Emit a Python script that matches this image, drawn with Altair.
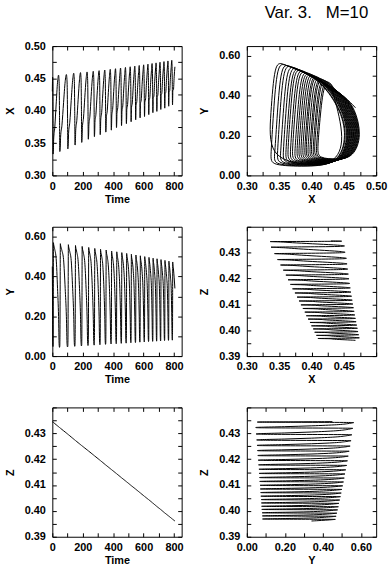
import altair as alt
import pandas as pd

# ---- values -----------------------------------------------------------
# start time of every oscillation (moment where Y starts its fast rise)
cycle_start = [5, 50, 103, 150, 194, 237, 277, 315, 352, 388, 422, 455,
               487, 518, 548, 577, 606, 634, 661, 687, 713, 739, 765, 790]
last_cycle_end = 814
t_end = 806
# per-cycle extremes
x_trough = [0.333, 0.337, 0.343, 0.347, 0.352, 0.356, 0.360, 0.363, 0.367, 0.370, 0.374, 0.377,
            0.380, 0.383, 0.386, 0.389, 0.391, 0.394, 0.397, 0.399, 0.402, 0.404, 0.407, 0.409]
x_peak = [0.452, 0.453, 0.455, 0.456, 0.457, 0.458, 0.459, 0.460, 0.461, 0.462, 0.463, 0.464,
          0.465, 0.466, 0.467, 0.468, 0.469, 0.470, 0.471, 0.472, 0.473, 0.474, 0.475, 0.476]
y_trough = [0.050, 0.052, 0.055, 0.057, 0.059, 0.061, 0.063, 0.065, 0.067, 0.068, 0.070, 0.071,
            0.073, 0.074, 0.076, 0.077, 0.079, 0.080, 0.081, 0.082, 0.084, 0.085, 0.086, 0.087]
y_peak = [0.570, 0.565, 0.560, 0.556, 0.551, 0.546, 0.541, 0.537, 0.533, 0.528, 0.524, 0.520,
          0.516, 0.512, 0.508, 0.504, 0.500, 0.496, 0.492, 0.489, 0.485, 0.481, 0.477, 0.473]
z_start = [0.4343, 0.4321, 0.4296, 0.4273, 0.4252, 0.4232, 0.4213, 0.4195, 0.4177, 0.4160, 0.4144, 0.4128,
           0.4113, 0.4098, 0.4084, 0.4070, 0.4056, 0.4043, 0.4030, 0.4017, 0.4005, 0.3992, 0.3980, 0.3968]
z_last = 0.3957
# initial transient at t = 0
t_init = [0.0, 2.0, 3.5, 4.3]
x_init = [0.430, 0.452, 0.440, 0.392]
y_init = [0.450, 0.200, 0.060, 0.048]
z_init = [0.4345, 0.4344, 0.4344, 0.4343]
# turning points inside one cycle (fraction of the period)
phase = [0.00, 0.025, 0.05, 0.08, 0.25, 0.45, 0.65, 0.80, 0.89, 0.94, 0.98]

rows = [dict(t=a, X=b, Y=c, Z=d) for a, b, c, d in zip(t_init, x_init, y_init, z_init)]
n = len(cycle_start)
for k in range(n):
    t0 = cycle_start[k]
    t1 = cycle_start[k + 1] if k + 1 < n else last_cycle_end
    z0 = z_start[k]
    z1 = z_start[k + 1] if k + 1 < n else z_last
    xl, xh, yl, yh = x_trough[k], x_peak[k], y_trough[k], y_peak[k]
    xs = [xl, xl + 0.004, xl + 0.010, xl + 0.022, xl + 0.35 * (xh - xl), xl + 0.65 * (xh - xl),
          xh - 0.008, xh + 0.003, xh - 0.010, 0.5 * (xl + xh), xl + 0.004]
    ys = [yl + 0.04, 0.5 * (yl + yh), yh, yh - 0.008, yh - 0.035, yh - 0.08, 0.34, 0.20,
          yl + 0.005, yl - 0.006, yl]
    for f, xv, yv in zip(phase, xs, ys):
        t = t0 + f * (t1 - t0)
        if t <= t_end:
            rows.append(dict(t=t, X=xv, Y=yv, Z=z0 + f * (z1 - z0)))
df = pd.DataFrame(rows)

FONT = "Liberation Sans"
W = 131
H = 131

time_ticks = list(range(0, 801, 100))
x_ticks = [0.30, 0.325, 0.35, 0.375, 0.40, 0.425, 0.45, 0.475, 0.50]
y_ticks = [0.0, 0.1, 0.2, 0.3, 0.4, 0.5, 0.6]
z_ticks = [0.39, 0.395, 0.40, 0.405, 0.41, 0.415, 0.42, 0.425, 0.43, 0.435, 0.44]

lab_time = "datum.value % 200 === 0 ? datum.label : ''"
lab_x = "abs(round(datum.value * 1000) % 50) == 0 ? datum.label : ''"
lab_x45 = "abs(round(datum.value * 1000) % 50) == 0 && datum.value < 0.48 ? datum.label : ''"
lab_y = "abs(round(datum.value * 100) % 20) == 0 ? datum.label : ''"
lab_z = "abs(round(datum.value * 1000) % 10) == 0 && datum.value < 0.435 ? datum.label : ''"


def panel(xf, yf, xdom, ydom, xticks, yticks, xexpr, yexpr, xfmt, yfmt, xtitle, ytitle,
          interp, title=None):
    base = alt.Chart(df).properties(width=W, height=H)
    if title is not None:
        base = base.properties(title=title)
    xs = alt.Scale(domain=xdom, nice=False, zero=False)
    ys = alt.Scale(domain=ydom, nice=False, zero=False)
    main = base.mark_line(color="black", strokeWidth=1.0, interpolate=interp).encode(
        x=alt.X(f"{xf}:Q", scale=xs,
                axis=alt.Axis(orient="bottom", values=xticks, labelExpr=xexpr, format=xfmt,
                              title=xtitle, offset=-4, tickSize=4, domain=False,
                              labelPadding=5, titlePadding=2, labelFlush=False,
                              labelOverlap=False)),
        y=alt.Y(f"{yf}:Q", scale=ys,
                axis=alt.Axis(orient="left", values=yticks, labelExpr=yexpr, format=yfmt,
                              title=ytitle, offset=-4, tickSize=4, domain=False,
                              labelPadding=7, titlePadding=9, labelFlush=False,
                              labelOverlap=False)),
        order="t:Q",
    )
    mirror = alt.Chart(df).mark_line(strokeOpacity=0, interpolate=interp).encode(
        x=alt.X(f"{xf}:Q", scale=xs,
                axis=alt.Axis(orient="top", values=xticks, labels=False, title=None,
                              offset=-4, tickSize=4, domain=False)),
        y=alt.Y(f"{yf}:Q", scale=ys,
                axis=alt.Axis(orient="right", values=yticks, labels=False, title=None,
                              offset=-4, tickSize=4, domain=False)),
        order="t:Q",
    ).properties(width=W, height=H)
    return alt.layer(main, mirror).resolve_axis(x="independent", y="independent")


main_title = alt.TitleParams(text="Var. 3.\u00a0\u00a0\u00a0M=10", anchor="middle", frame="group",
                             font=FONT, fontSize=17, fontWeight="normal", color="black",
                             offset=24, dx=5)

p11 = panel("t", "X", [0, 850], [0.30, 0.50], time_ticks, x_ticks, lab_time, lab_x,
            "d", ".2f", "Time", "X", "monotone")
p12 = panel("X", "Y", [0.30, 0.50], [0.0, 0.65], x_ticks, y_ticks, lab_x, lab_y,
            ".2f", ".2f", "X", "Y", "basis", title=main_title)
p21 = panel("t", "Y", [0, 850], [0.0, 0.65], time_ticks, y_ticks, lab_time, lab_y,
            "d", ".2f", "Time", "Y", "monotone")
p22 = panel("X", "Z", [0.30, 0.50], [0.39, 0.44], x_ticks, z_ticks, lab_x45, lab_z,
            ".2f", ".2f", "X", "Z", "basis")
p31 = panel("t", "Z", [0, 850], [0.39, 0.44], time_ticks, z_ticks, lab_time, lab_z,
            "d", ".2f", "Time", "Z", "monotone")
p32 = panel("Y", "Z", [0.0, 0.68], [0.39, 0.44], y_ticks, z_ticks, lab_y, lab_z,
            ".2f", ".2f", "Y", "Z", "basis")

chart = alt.concat(
    p11, p12, p21, p22, p31, p32,
    columns=2,
    spacing={"row": 52, "column": 66},
    bounds="flush",
).properties(
    padding={"left": 4, "top": 0, "right": 0, "bottom": 0},
    background="white",
).configure_view(
    stroke="black", strokeWidth=1
).configure_axis(
    grid=False, labelFont=FONT, labelFontSize=11, labelFontWeight="bold", labelColor="black",
    titleFont=FONT, titleFontSize=11, titleFontWeight="bold", titleColor="black",
    tickColor="black", tickWidth=1
)

chart.save("out.html", embed_options={"renderer": "svg", "actions": False})
